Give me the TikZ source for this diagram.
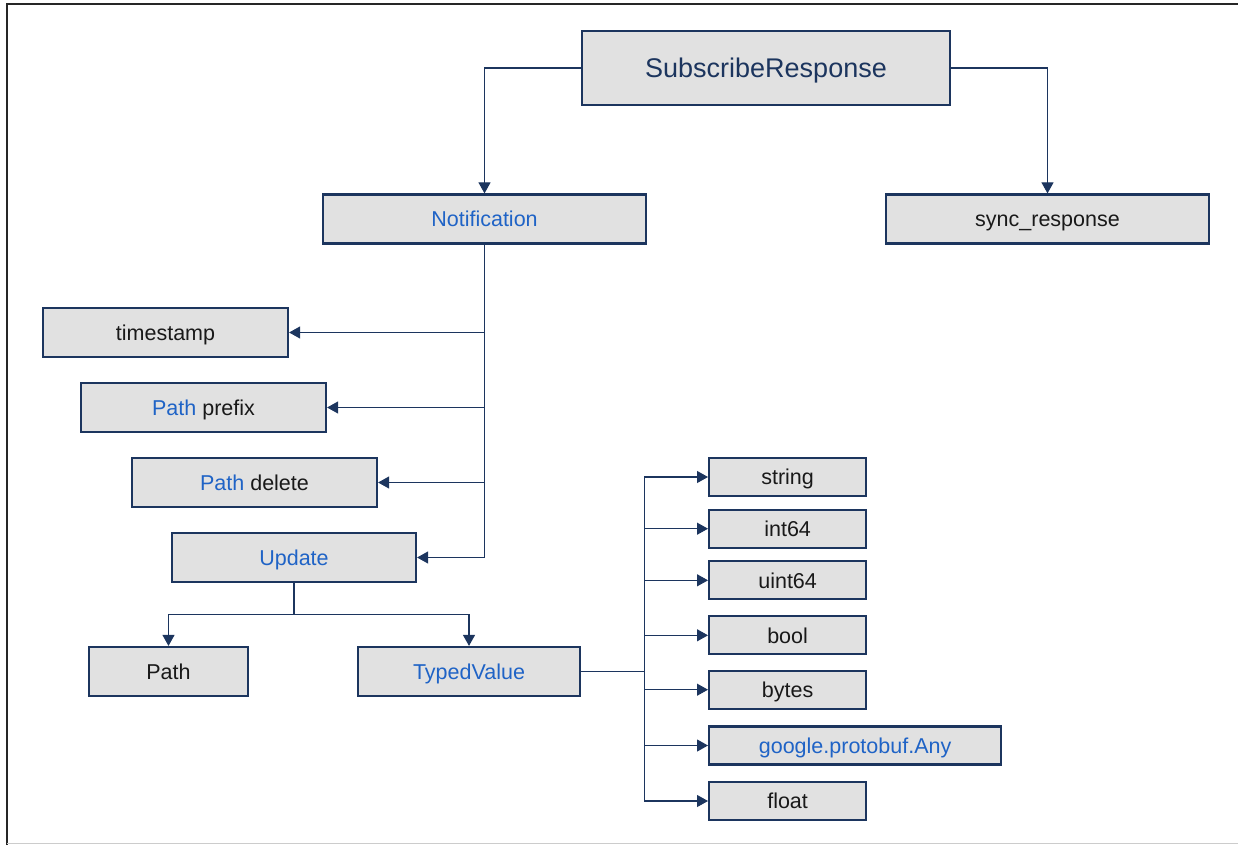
\documentclass[tikz,border=0pt]{standalone}
\usepackage{fontspec}
\setmainfont{Liberation Sans}
\usetikzlibrary{positioning, arrows.meta}

\definecolor{navy}{HTML}{1C355E}
\definecolor{fieldblue}{HTML}{1F63C6}
\definecolor{boxgray}{HTML}{E1E1E1}

\begin{document}
\begin{tikzpicture}[
    x=1pt, y=-1pt,
    >={Triangle[length=11pt,width=12pt]},
    msgbox/.style={draw=navy, line width=2.2pt, fill=boxgray, inner sep=0pt,
        minimum height=49pt, font=\fontsize{21.5}{26}\selectfont, text=black!90,
        text height=15.5pt, text depth=0pt},
    leafbox/.style={msgbox, minimum height=38pt, minimum width=157pt},
    wire/.style={draw=navy, line width=1.1pt},
    field/.style={text=fieldblue}
]
    \useasboundingbox (0,0) rectangle (1238,845);

    % --- frame ---
    \draw[line width=2.5pt, black!85] (7,845) -- (7,4) -- (1238,4);
    \draw[line width=0.8pt, black!20] (7,843) -- (1238,843);

    % --- top level ---
    \node[msgbox, minimum width=368pt, minimum height=74pt, text=navy, text height=19.5pt,
        font=\fontsize{27}{32}\selectfont] (resp) at (766,68) {SubscribeResponse};
    \node[msgbox, minimum width=323pt, field] (notif) at (484.5,219) {Notification};
    \node[msgbox, minimum width=323pt] (sync) at (1047.5,219) {sync\_response};

    % --- notification fields ---
    \node[msgbox, minimum width=245pt] (stamp) at (165.5,332.5) {timestamp};
    \node[msgbox, minimum width=245pt] (prefix) at (203.5,407.5) {\textcolor{fieldblue}{Path} prefix};
    \node[msgbox, minimum width=245pt] (delete) at (254.5,482.5) {\textcolor{fieldblue}{Path} delete};
    \node[msgbox, minimum width=244pt, field] (update) at (294,557.5) {Update};

    % --- update fields ---
    \node[msgbox, minimum width=159pt] (path) at (168.5,671.5) {Path};
    \node[msgbox, minimum width=222pt, field] (typed) at (469,671.5) {TypedValue};

    % --- value types ---
    \node[leafbox, anchor=west] (string) at (708,477) {string};
    \node[leafbox, anchor=west] (int) at (708,528.7) {int64};
    \node[leafbox, anchor=west] (uint) at (708,580.3) {uint64};
    \node[leafbox, anchor=west] (bool) at (708,635.3) {bool};
    \node[leafbox, anchor=west] (bytes) at (708,689.7) {bytes};
    \node[leafbox, anchor=west, minimum width=292pt, field] (any) at (708,745.5) {google.protobuf.Any};
    \node[leafbox, anchor=west] (float) at (708,801) {float};

    % --- connectors ---
    \draw[wire,->] (resp.west) -| (notif.north);
    \draw[wire,->] (resp.east) -| (sync.north);

    \draw[wire,->] (notif.south) |- (update.east);
    \draw[wire,->] (notif.south |- stamp.east) -- (stamp.east);
    \draw[wire,->] (notif.south |- prefix.east) -- (prefix.east);
    \draw[wire,->] (notif.south |- delete.east) -- (delete.east);

    \draw[wire] (update.south) -- ++(0,31) coordinate (usplit);
    \draw[wire,->] (usplit) -| (path.north);
    \draw[wire,->] (usplit) -| (typed.north);

    \draw[wire] (typed.east) -- ++(63,0) coordinate (tsplit);
    \draw[wire] (tsplit |- string.west) -- (tsplit |- float.west);
    \foreach \t in {string, int, uint, bool, bytes, any, float}
        \draw[wire,->] (tsplit |- \t.west) -- (\t.west);

\end{tikzpicture}
\end{document}
